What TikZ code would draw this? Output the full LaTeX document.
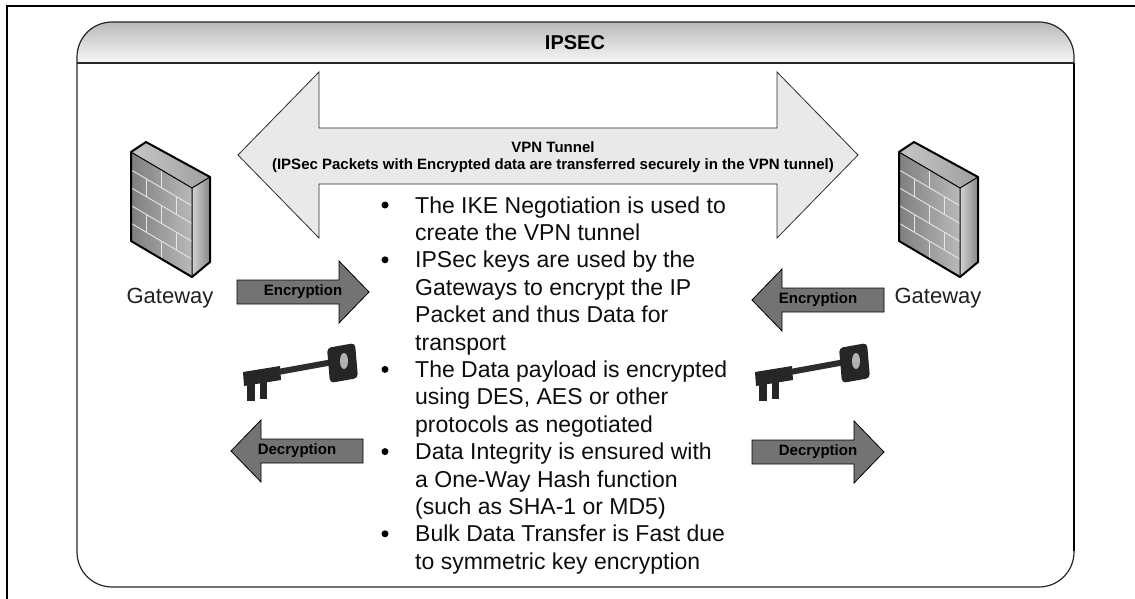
\documentclass[tikz,border=0pt]{standalone}
\usepackage{fontspec}
\setmainfont{Liberation Sans}

\begin{document}
\begin{tikzpicture}
  [x=1pt,y=-1pt,
   every node/.style={inner sep=0pt},
   ipframe/.style={draw=gray!30!black,line width=1.2pt},
   tunnel/.style={fill=gray!17,draw=gray!35!black,line width=0.8pt},
   smallarrow/.style={fill=gray!90!black,draw=black,line width=0.8pt},
   arrowtext/.style={font=\bfseries\fontsize{15}{17}\selectfont},
   bodytext/.style={anchor=base west,font=\fontsize{23}{27}\selectfont,text=gray!10!black},
   gwlabel/.style={font=\fontsize{22}{26}\selectfont,text=gray!25!black},
   mortar/.style={draw=white!80!gray,line width=0.9pt},
   keybody/.style={fill=gray!30!black}]
  \useasboundingbox (0,0) rectangle (1135,599);

  % outer frame, open on the right and bottom
  \draw[line width=2.5pt] (7,599) -- (7,6) -- (1135,6);

  % rounded panel with shaded title band
  \begin{scope}
    \clip[rounded corners=35] (77,22) rectangle (1074,587);
    \shade[top color=gray!55,bottom color=gray!5] (77,22) rectangle (1074,63);
  \end{scope}
  \draw[ipframe,rounded corners=35] (77,22) rectangle (1074,587);
  \draw[ipframe] (77,63) -- (1074,63);
  \draw[line width=2.5pt] (1074,63) -- (1074,551);
  \node[font=\bfseries\fontsize{20}{24}\selectfont] (title) at (575,43) {IPSEC};

  % VPN tunnel double arrow
  \draw[tunnel] (238,155) -- (319,72) -- (319,128) -- (777,128) -- (777,72)
    -- (858,155) -- (777,238) -- (777,184) -- (319,184) -- (319,238) -- cycle;
  \node[font=\bfseries\fontsize{15}{17}\selectfont,align=center] (vpn) at (553,157)
    {VPN Tunnel\\(IPSec Packets with Encrypted data are transferred securely in the VPN tunnel)};

  % gateways (firewall walls)
  \foreach \gx/\nm in {0/L,768/R} {
    \begin{scope}[shift={(\gx,0)}]
      \shade[left color=gray!45,right color=gray!75]
        (131,152) -- (146,142) -- (210,177) -- (192,188) -- cycle;
      \shade[left color=gray,right color=gray!55]
        (131,152) -- (192,188) -- (192,277) -- (131,241) -- cycle;
      \shade[left color=gray!35,right color=gray!95]
        (192,188) -- (210,177) -- (210,262) -- (192,277) -- cycle;
      \foreach \v in {0.2,0.4,0.6,0.8}
        \draw[mortar] (131,{152+89*\v}) -- (192,{188+89*\v});
      \foreach \u/\va in {0.5/0,0.25/0.2,0.75/0.2,0.5/0.4,0.25/0.6,0.75/0.6,0.5/0.8}
        \draw[mortar] ({131+61*\u},{152+36*\u+89*\va}) -- ++(0,17.8);
      \draw[line width=1pt] (131,152) -- (192,188) -- (210,177) (192,188) -- (192,277);
      \draw[line width=2pt,line join=round]
        (131,152) -- (146,142) -- (210,177) -- (210,262) -- (192,277) -- (131,241) -- cycle;
    \end{scope}
  }
  \node[gwlabel] (gwL) at (170,298) {Gateway};
  \node[gwlabel] (gwR) at (938,298) {Gateway};

  % keys
  \foreach \kx in {0,512} {
    \begin{scope}[shift={(\kx,0)}]
      \fill[keybody] (243,372) -- (280,366) -- (281,380) -- (244,386) -- cycle;
      \fill[keybody] (247,383) rectangle (255,401);
      \fill[keybody] (260,381) rectangle (267,399);
      \draw[gray!35!black,line width=6pt] (278,372) -- (333,362);
      \fill[keybody,rounded corners=4] (327,348) -- (355,343) -- (358,378) -- (330,383) -- cycle;
      \fill[gray!60] (344,361) ellipse (4pt and 8pt);
    \end{scope}
  }

  % encryption / decryption arrows
  \foreach \cx/\cy/\dir/\txt/\nm in {303/292/1/Encryption/encL,818/300/-1/Encryption/encR,
                                      297/451/-1/Decryption/decL,818/452/1/Decryption/decR} {
    \draw[smallarrow] (\cx-66*\dir,\cy-12) -- (\cx+36*\dir,\cy-12) -- (\cx+36*\dir,\cy-31)
      -- (\cx+66*\dir,\cy) -- (\cx+36*\dir,\cy+31) -- (\cx+36*\dir,\cy+12)
      -- (\cx-66*\dir,\cy+12) -- cycle;
    \node[arrowtext] (\nm) at (\cx,\cy) {\txt};
  }

  % bullet list
  \foreach \txt [count=\i] in {The IKE Negotiation is used to, create the VPN tunnel,
      IPSec keys are used by the, Gateways to encrypt the IP, Packet and thus Data for,
      transport, The Data payload is encrypted, {using DES, AES or other},
      protocols as negotiated, Data Integrity is ensured with, a One-Way Hash function,
      (such as SHA-1 or MD5), Bulk Data Transfer is Fast due, to symmetric key encryption}
    \node[bodytext] (line\i) at (415,{213+27.4*(\i-1)}) {\txt};
  \foreach \i in {1,3,7,10,13}
    \fill (385,{205+27.4*(\i-1)}) circle (3.5pt);
\end{tikzpicture}
\end{document}
